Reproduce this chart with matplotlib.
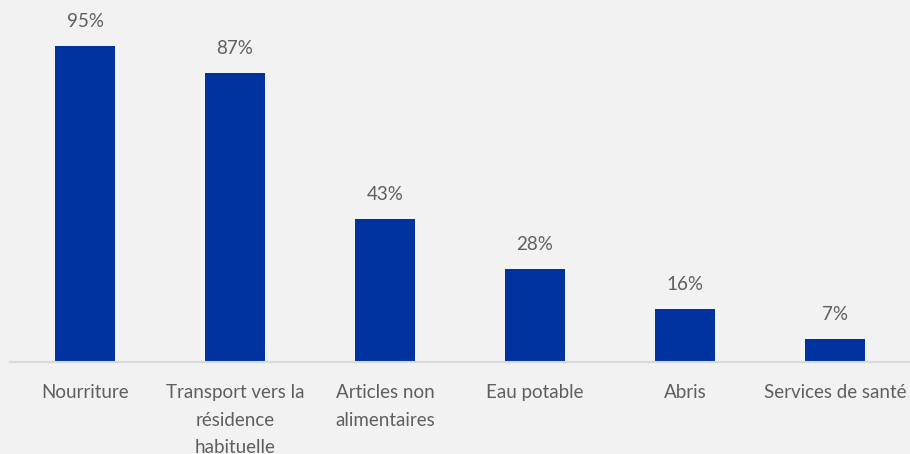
import matplotlib
matplotlib.use('Agg')
import matplotlib.pyplot as plt

# data
categories = ['Nourriture', 'Transport vers la\nrésidence\nhabituelle', 'Articles non\nalimentaires',
              'Eau potable', 'Abris', 'Services de santé']
values = [95, 87, 43, 28, 16, 7]

bar_color = '#0033a0'
text_color = '#5f5f5f'
bg = '#f2f2f2'

plt.rcParams['font.family'] = ['Lato', 'DejaVu Sans']

fig = plt.figure(figsize=(9.1, 4.54), dpi=100, facecolor=bg)
ax = fig.add_axes([10/910, 92/454, 900/910, (362-29.4)/454])
ax.set_facecolor(bg)

x = range(len(categories))
bars = ax.bar(x, values, width=0.4, color=bar_color, zorder=2)

# percentage above each bar
for b, v in zip(bars, values):
    ax.annotate(str(v) + '%', (b.get_x() + b.get_width()/2, v), xytext=(0, 16),
                textcoords='offset pixels', ha='center', va='bottom',
                fontsize=13.5, color=text_color)

ax.set_xlim(-0.5, len(categories) - 0.5)
ax.set_ylim(0, 100)
ax.set_yticks([])
ax.set_xticks(list(x))
ax.set_xticklabels(categories, fontsize=13.5, color=text_color, linespacing=1.75)
ax.tick_params(axis='x', length=0, pad=16)

for s in ['top', 'right', 'left']:
    ax.spines[s].set_visible(False)
ax.spines['bottom'].set_color('#d9d9d9')
ax.spines['bottom'].set_linewidth(1.5)

fig.savefig('out.png', dpi=100, facecolor=bg)
